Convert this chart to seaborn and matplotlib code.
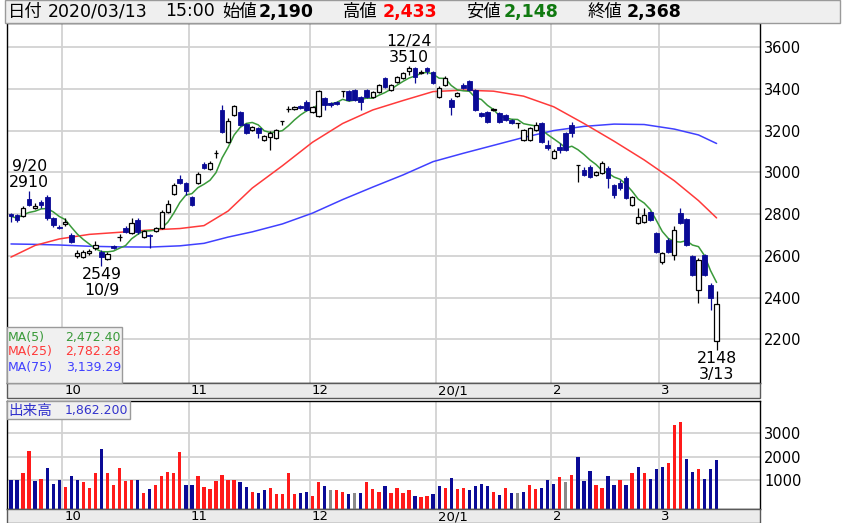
import numpy as np
import pandas as pd
import matplotlib
matplotlib.use("Agg")
import matplotlib.pyplot as plt
import matplotlib.transforms as mtransforms
from matplotlib.patches import Rectangle
import seaborn as sns

W, H = 843, 523

# ---------------- data ----------------
OPEN = [2800, 2795, 2790, 2872, 2828, 2858, 2882, 2781, 2738,
        2752, 2700, 2599, 2594, 2613, 2637, 2618, 2585, 2647, 2690, 2733, 2709, 2771, 2690, 2700, 2719, 2733, 2810, 2896, 2968, 2949,
        2882, 2949, 3040, 3016, 3093, 3299, 3146, 3275, 3290, 3232, 3203, 3213, 3155, 3170, 3165, 3245, 3304, 3304, 3318, 3338,
        3290, 3270, 3357, 3333, 3338, 3390, 3390, 3395, 3362, 3395, 3362, 3386, 3453, 3395, 3434, 3453, 3486, 3501, 3477, 3501, 3482,
        3362, 3419, 3347, 3366, 3419, 3438, 3395, 3285, 3290, 3302, 3285, 3275, 3251, 3237, 3155, 3155, 3203, 3237, 3131,
        3069, 3122, 3189, 3227, 3035, 3011, 3026, 2988, 2997, 3021, 2940, 2949, 2973, 2844, 2757, 2762, 2810, 2709,
        2570, 2676, 2604, 2805, 2777, 2599, 2436, 2604, 2460, 2190]
HIGH = [2805, 2800, 2838, 2910, 2853, 2867, 2891, 2786, 2747,
        2781, 2709, 2628, 2628, 2632, 2671, 2628, 2618, 2652, 2705, 2743, 2781, 2781, 2724, 2705, 2738, 2819, 2867, 2949, 2988, 2954,
        2887, 3002, 3050, 3055, 3107, 3323, 3261, 3323, 3294, 3237, 3223, 3218, 3179, 3199, 3208, 3249, 3318, 3318, 3323, 3347,
        3318, 3395, 3362, 3338, 3342, 3392, 3395, 3400, 3366, 3400, 3390, 3424, 3458, 3424, 3462, 3482, 3510, 3506, 3491, 3506, 3486,
        3414, 3462, 3357, 3386, 3429, 3443, 3400, 3290, 3294, 3309, 3290, 3280, 3256, 3239, 3208, 3218, 3242, 3242, 3155,
        3112, 3141, 3194, 3242, 3037, 3026, 3035, 3007, 3055, 3030, 2944, 2964, 2983, 2887, 2829, 2829, 2815, 2714,
        2618, 2685, 2743, 2829, 2781, 2604, 2589, 2609, 2470, 2433]
LOW = [2762, 2762, 2786, 2838, 2824, 2829, 2771, 2738, 2728,
       2743, 2661, 2589, 2589, 2604, 2628, 2549, 2580, 2632, 2671, 2709, 2705, 2705, 2685, 2637, 2714, 2728, 2805, 2892, 2944, 2892,
       2839, 2944, 3016, 3011, 3069, 3189, 3141, 3270, 3223, 3184, 3199, 3165, 3151, 3107, 3160, 3227, 3290, 3299, 3304, 3294,
       3285, 3266, 3299, 3314, 3323, 3362, 3342, 3342, 3299, 3357, 3357, 3381, 3405, 3390, 3429, 3448, 3467, 3429, 3472, 3472, 3424,
       3357, 3414, 3275, 3362, 3400, 3390, 3294, 3266, 3237, 3294, 3237, 3247, 3232, 3213, 3151, 3151, 3199, 3141, 3107,
       3064, 3093, 3105, 3170, 2954, 2983, 2973, 2983, 2992, 2925, 2877, 2916, 2872, 2839, 2753, 2757, 2767, 2613,
       2561, 2613, 2580, 2753, 2647, 2503, 2374, 2503, 2340, 2148]
CLOSE = [2790, 2771, 2829, 2843, 2838, 2845, 2781, 2748, 2733,
         2762, 2666, 2613, 2618, 2623, 2652, 2594, 2609, 2637, 2692, 2714, 2757, 2714, 2719, 2695, 2733, 2810, 2848, 2940, 2949, 2911,
         2844, 2992, 3021, 3045, 3095, 3194, 3247, 3318, 3227, 3189, 3218, 3189, 3175, 3189, 3203, 3247, 3306, 3314, 3309, 3299,
         3314, 3390, 3323, 3323, 3328, 3390, 3347, 3347, 3338, 3362, 3386, 3419, 3410, 3419, 3458, 3477, 3501, 3458, 3482, 3486, 3429,
         3405, 3453, 3314, 3381, 3405, 3395, 3299, 3270, 3242, 3304, 3242, 3251, 3237, 3237, 3203, 3213, 3227, 3146, 3117,
         3103, 3110, 3110, 3189, 3035, 2988, 2978, 3002, 3045, 2973, 2892, 2925, 2877, 2882, 2786, 2796, 2772, 2618,
         2613, 2618, 2724, 2757, 2652, 2508, 2580, 2508, 2398, 2368]
VOLUME = [1000, 1000, 1286, 2243, 957, 1057, 1500, 829, 1000,
          714, 1171, 1000, 900, 671, 1286, 2314, 1286, 771, 1500, 957, 1000, 1000, 443, 600, 771, 1171, 1343, 1286, 2186, 771,
          771, 1171, 714, 600, 957, 1229, 1000, 1000, 900, 714, 500, 443, 557, 657, 386, 386, 1286, 386, 443, 500,
          329, 900, 729, 557, 557, 500, 386, 443, 443, 900, 600, 500, 729, 443, 671, 443, 557, 329, 280, 338, 394,
          732, 676, 1070, 606, 676, 577, 732, 845, 732, 507, 352, 676, 451, 451, 507, 789, 620, 676, 1000,
          845, 1113, 901, 1225, 2000, 958, 1394, 789, 676, 1169, 789, 1000, 789, 1282, 1563, 1282, 1056, 1451,
          1563, 1732, 3352, 3451, 1887, 1338, 1451, 1056, 1451, 1862]
VOL_DIR = list("bbrrbrbbb"
               "rbbrrrbrrrrrbrbrrrrrb"
               "brrrrrrrbbrbbrrrrrbb"
               "rrbgrrbgbrrrbrrrrbrrb"
               "brbrrbbbbrbrbgbrrbb"
               "brgrbbbrrbbrbrbrbb"
               "brrrbbrbbb")

MONTH_START_IDX = [9, 30, 50, 71, 90, 108]
MONTH_LABELS = ["10", "11", "12", "20/1", "2", "3"]
PRICE_TICKS = [2200, 2400, 2600, 2800, 3000, 3200, 3400, 3600]
VOL_TICKS = [1000, 2000, 3000]

MA_IDX = [0, 4, 8, 13, 18, 23, 28, 32, 36, 40, 45, 50, 55, 60, 65, 70, 75, 80, 85, 90, 95, 100, 105, 110, 114, 117]
MA25 = [2594, 2650, 2681, 2703, 2713, 2724, 2731, 2745, 2815, 2925, 3032, 3145, 3235, 3300, 3345, 3388, 3395, 3390, 3366,
        3315, 3235, 3150, 3060, 2960, 2865, 2782]
MA75 = [2657, 2655, 2652, 2646, 2643, 2642, 2648, 2660, 2690, 2715, 2753, 2805, 2870, 2930, 2988, 3052, 3092, 3130, 3168,
        3201, 3221, 3232, 3230, 3208, 3180, 3139]

MA_LABELS = ["MA(5)", "MA(25)", "MA(75)"]
MA_VALUES = ["2,472.40", "2,782.28", "3,139.29"]
HIGH_NOTES = [(3, "9/20", "2910"), (66, "12/24", "3510")]
LOW_NOTES = [(15, "2549", "10/9"), (117, "2148", "3/13")]
VOL_LABEL, VOL_VALUE = "出来高", "1,862.200"

# ---------------- style ----------------
sns.set_theme(style="white")
plt.rcParams['font.family'] = ['DejaVu Sans', 'Noto Sans CJK JP']

NAVY = "#0a0a96"
RED = "#ff1a1a"
GREEN_MA = "#3a9a3a"
RED_MA = "#ff3a3a"
BLUE_MA = "#4040ff"
GRID = "#d2d2d2"

df = pd.DataFrame({"idx": np.arange(len(CLOSE)), "open": OPEN, "high": HIGH,
                   "low": LOW, "close": CLOSE, "vol": VOLUME, "dir": VOL_DIR})
df["ma5"] = df["close"].rolling(5, min_periods=1).mean()
ma = pd.DataFrame({"idx": MA_IDX, "ma25": MA25, "ma75": MA75})

fig = plt.figure(figsize=(W / 100, H / 100), dpi=100)
fig.patch.set_facecolor("white")


def rect(x0, y0, x1, y1):
    return [x0 / W, 1 - y1 / H, (x1 - x0) / W, (y1 - y0) / H]


XMIN, XMAX = -0.66, 124.2
axp = fig.add_axes(rect(7, 23, 760, 383))
axv = fig.add_axes(rect(7, 401, 760, 509))

grid_x = [i - 0.5 for i in MONTH_START_IDX]
for ax in (axp, axv):
    ax.set_xlim(XMIN, XMAX)
    ax.set_facecolor("white")
    ax.set_xticks(grid_x)
    ax.grid(True, color=GRID, lw=1.3)
    ax.set_axisbelow(True)
    ax.tick_params(axis="x", length=0, labelbottom=False, bottom=False)
    ax.yaxis.tick_right()
    ax.tick_params(axis="y", length=0, pad=3, labelsize=10.5, labelcolor="black")
    for s in ax.spines.values():
        s.set_color("black")
        s.set_linewidth(1.0)
    ax.set_xlabel("")
    ax.set_ylabel("")

# ---- price panel ----
axp.set_ylim(1990, 3717)
axp.set_yticks(PRICE_TICKS)
axp.set_yticklabels([str(t) for t in PRICE_TICKS])

sns.lineplot(x=ma["idx"], y=ma["ma75"], color=BLUE_MA, lw=1.1, ax=axp, zorder=2)
sns.lineplot(x=ma["idx"], y=ma["ma25"], color=RED_MA, lw=1.1, ax=axp, zorder=2)
sns.lineplot(x=df["idx"], y=df["ma5"], color=GREEN_MA, lw=1.1, ax=axp, zorder=2)

up = df["close"] >= df["open"]
dn = ~up
axp.vlines(df["idx"][up], df["low"][up], df["high"][up], color="black", lw=0.9, zorder=3)
axp.vlines(df["idx"][dn], df["low"][dn], df["high"][dn], color=NAVY, lw=0.9, zorder=3)
axp.bar(df["idx"][up], (df["close"] - df["open"])[up], bottom=df["open"][up], width=0.7,
        color="white", edgecolor="black", lw=0.9, zorder=4)
axp.bar(df["idx"][dn], (df["open"] - df["close"])[dn], bottom=df["close"][dn], width=0.78,
        color=NAVY, edgecolor=NAVY, lw=0.6, zorder=4)
axp.set_xlabel("")
axp.set_ylabel("")

PT = 1 / 1.389
for i, d, v in HIGH_NOTES:
    axp.annotate(v, (i, HIGH[i]), xytext=(0, 8.5 * PT), textcoords="offset points",
                 ha="center", va="center", fontsize=11.3, color="black", zorder=6)
    axp.annotate(d, (i, HIGH[i]), xytext=(0, 24.5 * PT), textcoords="offset points",
                 ha="center", va="center", fontsize=11.3, color="black", zorder=6)
for i, v, d in LOW_NOTES:
    axp.annotate(v, (i, LOW[i]), xytext=(0, -8 * PT), textcoords="offset points",
                 ha="center", va="center", fontsize=11.3, color="black", zorder=6)
    axp.annotate(d, (i, LOW[i]), xytext=(0, -24 * PT), textcoords="offset points",
                 ha="center", va="center", fontsize=11.3, color="black", zorder=6)

# ---- volume panel ----
VOL_FLOOR = -234
axv.set_ylim(VOL_FLOOR, 4366)
axv.set_yticks(VOL_TICKS)
axv.set_yticklabels([str(t) for t in VOL_TICKS])
cmap = {"r": RED, "b": NAVY, "g": "#8a8a8a"}
axv.bar(df["idx"], df["vol"] - VOL_FLOOR, bottom=VOL_FLOOR, width=0.55,
        color=[cmap[d] for d in df["dir"]], lw=0, zorder=3)

# ---------------- overlay (header, strips, boxes) ----------------
ov = fig.add_axes([0, 0, 1, 1])
ov.set_xlim(0, W)
ov.set_ylim(H, 0)
ov.axis("off")
ov.set_zorder(10)
ov.patch.set_alpha(0)

ov.add_patch(Rectangle((5, 0), 835, 22.5, fc="#efefef", ec="#9a9a9a", lw=1))
hdr = [(8, "日付", "black", "normal"), (48, "2020/03/13", "black", "normal"),
       (165, "15:00", "black", "normal"), (222, "始値", "black", "normal"),
       (259, "2,190", "black", "bold"), (343, "高値", "black", "normal"),
       (383, "2,433", "#ff0000", "bold"), (466, "安値", "black", "normal"),
       (504, "2,148", "#117a11", "bold"), (588, "終値", "black", "normal"),
       (627, "2,368", "black", "bold")]
for x, t, c, w in hdr:
    ov.text(x, 11.5, t, ha="left", va="center", fontsize=12.5, color=c, fontweight=w)

for y0, y1 in ((383, 398), (509, 523)):
    ov.add_patch(Rectangle((7, y0), 753, y1 - y0, fc="#ebebeb", ec="#5a5a5a", lw=1))
trans = mtransforms.blended_transform_factory(axp.transData, ov.transData)
for gx, lab in zip(grid_x, MONTH_LABELS):
    for yc in (391, 517):
        t = ov.text(gx, yc, lab, transform=trans, ha="left", va="center", fontsize=9.5, color="black")
        t.set_transform(trans + mtransforms.ScaledTranslation(2 / 100, 0, fig.dpi_scale_trans))

# MA legend box
ov.add_patch(Rectangle((7, 327), 115, 56, fc="#f0f0f0", ec="#9a9a9a", lw=1))
for (lab, val, col, yc) in zip(MA_LABELS, MA_VALUES, [GREEN_MA, RED_MA, BLUE_MA], [337, 352, 367]):
    ov.text(8, yc, lab, ha="left", va="center", fontsize=9, color=col)
    ov.text(121, yc, val, ha="right", va="center", fontsize=9, color=col)

# volume label box
ov.add_patch(Rectangle((7, 401), 123, 18, fc="#f0f0f0", ec="#9a9a9a", lw=1))
ov.text(8, 410.5, VOL_LABEL, ha="left", va="center", fontsize=10.5, color="#3333cc")
ov.text(128, 410.5, VOL_VALUE, ha="right", va="center", fontsize=9, color="#3333cc")

fig.savefig("out.png", dpi=100, facecolor="white")
